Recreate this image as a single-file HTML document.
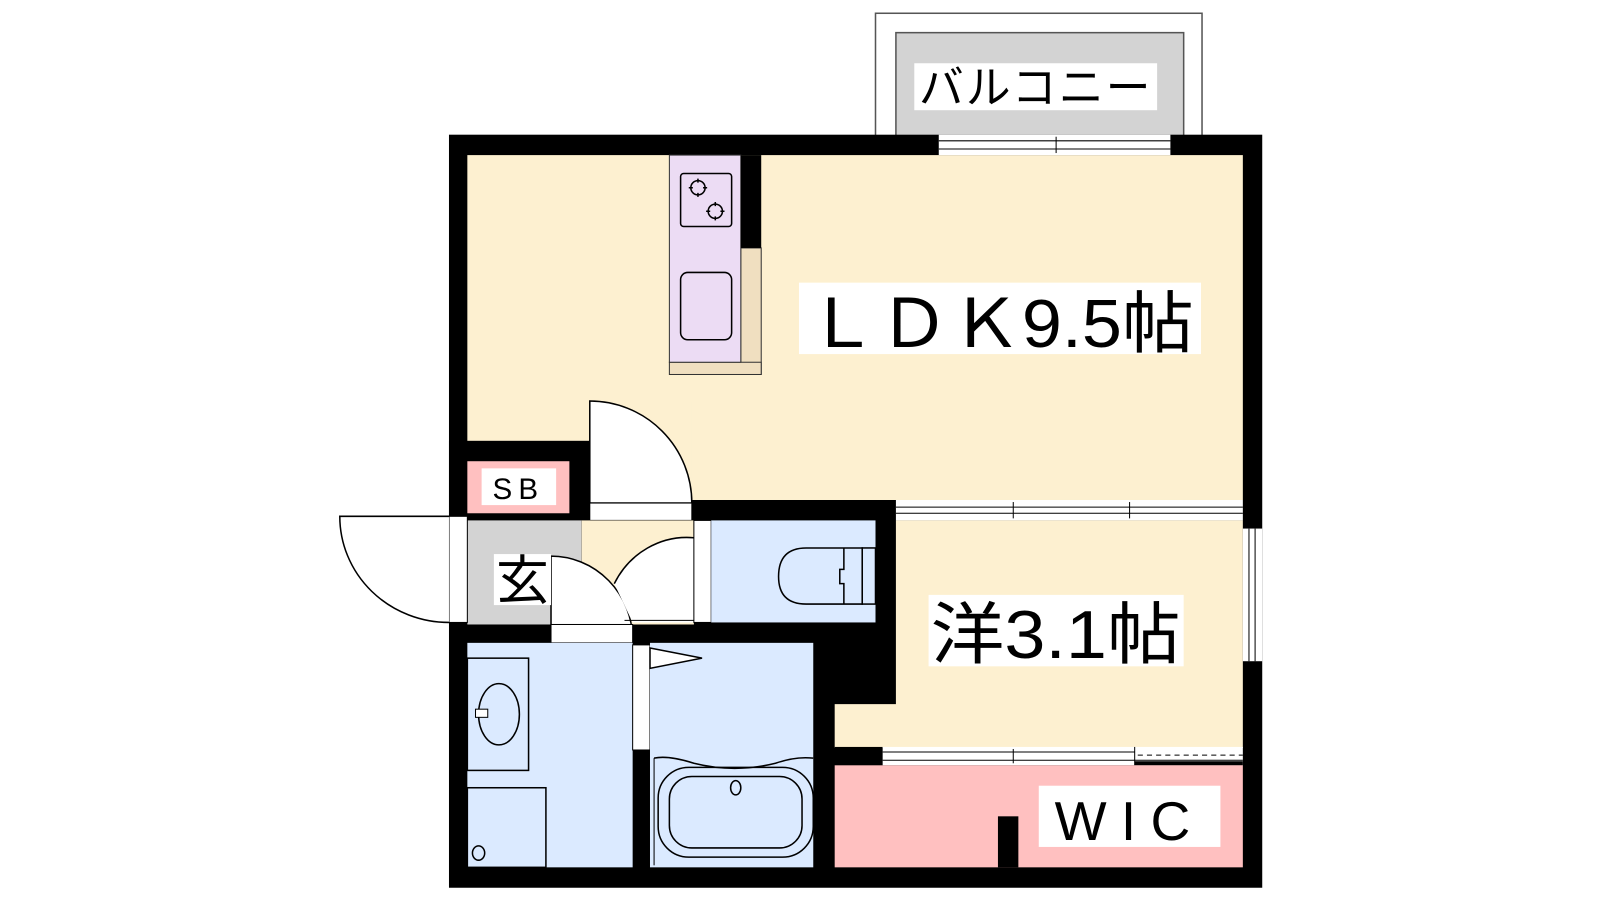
<!DOCTYPE html>
<html><head><meta charset="utf-8"><style>
html,body{margin:0;padding:0;background:#fff;}
svg{display:block;}
text{font-family:"Liberation Sans","Noto Sans CJK JP",sans-serif;fill:#000;}
</style></head><body>
<svg width="1600" height="900" viewBox="0 0 1600 900" xmlns="http://www.w3.org/2000/svg">
<g transform="scale(1.0204)">
<!-- balcony -->
<rect x="858" y="13" width="320" height="125" fill="#fff" stroke="#555" stroke-width="1.5"/>
<rect x="878" y="32" width="282" height="104" fill="#d3d3d3" stroke="#555" stroke-width="1.5"/>
<rect x="896" y="62" width="238" height="46" fill="#fff"/>
<text x="1015" y="101" font-size="44" text-anchor="middle" letter-spacing="2">バルコニー</text>

<!-- outer black -->
<rect x="440" y="132" width="797" height="738" fill="#000"/>
<!-- LDK -->
<rect x="458" y="152" width="760" height="338" fill="#fdf0d0"/>
<rect x="440" y="432" width="138" height="80" fill="#000"/>
<!-- SB -->
<rect x="458" y="452" width="100" height="51" fill="#ffc0c0"/>
<rect x="472" y="459" width="73" height="36" fill="#fff"/>
<text x="508" y="489" font-size="29" text-anchor="middle" letter-spacing="6">SB</text>
<!-- door LDK -->
<rect x="578" y="393" width="100" height="117" fill="#fdf0d0"/>
<path d="M578,493 L578,393 A100,100 0 0 1 678,493 Z" fill="#fff" stroke="#000" stroke-width="1.5"/>
<rect x="578" y="493" width="100" height="17" fill="#fff" stroke="#000" stroke-width="1"/>
<!-- sliding door LDK / western -->
<rect x="878" y="490" width="340" height="20" fill="#fff"/>
<line x1="878" y1="497" x2="1218" y2="497" stroke="#000" stroke-width="1"/>
<line x1="878" y1="503" x2="1218" y2="503" stroke="#000" stroke-width="1"/>
<line x1="993" y1="492" x2="993" y2="508" stroke="#000"/>
<line x1="1107" y1="492" x2="1107" y2="508" stroke="#000"/>
<!-- kitchen -->
<rect x="726" y="243" width="20" height="124" fill="#f0dfc0" stroke="#333" stroke-width="1"/>
<rect x="656" y="355" width="90" height="12" fill="#f0dfc0" stroke="#333" stroke-width="1"/>
<rect x="656" y="152" width="70" height="203" fill="#ecdcf4" stroke="#333" stroke-width="1"/>
<rect x="726" y="152" width="20" height="91" fill="#000"/>
<rect x="667" y="170" width="50" height="52" rx="3" fill="none" stroke="#000" stroke-width="1.5"/>
<circle cx="684" cy="184" r="7" fill="none" stroke="#000" stroke-width="1.5"/>
<path d="M684,175v4M684,189v4M675,184h4M689,184h4" stroke="#000" stroke-width="1.5"/>
<circle cx="701" cy="207" r="7" fill="none" stroke="#000" stroke-width="1.5"/>
<path d="M701,198v4M701,212v4M692,207h4M706,207h4" stroke="#000" stroke-width="1.5"/>
<rect x="667" y="267" width="50" height="66" rx="7" fill="none" stroke="#000" stroke-width="1.5"/>
<!-- LDK label -->
<rect x="783" y="277" width="394" height="70" fill="#fff"/>
<text x="790" y="340" font-size="66" textLength="380" lengthAdjust="spacingAndGlyphs">ＬＤＫ9.5帖</text>

<!-- genkan -->
<rect x="458" y="510" width="112" height="102" fill="#d3d3d3"/>
<line x1="570" y1="510" x2="570" y2="612" stroke="#777" stroke-width="1"/>
<rect x="570" y="510" width="110" height="102" fill="#fdf0d0"/>
<!-- entrance door -->
<rect x="440" y="506" width="18" height="104" fill="#fff" stroke="#000" stroke-width="1"/>
<path d="M440,506 L333,506 A107,104 0 0 0 440,610" fill="#fff" stroke="#000" stroke-width="1.5"/>
<!-- inner door to wash -->
<path d="M540,627 L540,545 A80,82 0 0 1 620,627 Z" fill="#fff" stroke="#000" stroke-width="1.5"/>
<rect x="484" y="543" width="56" height="50" fill="#fff"/>
<text x="512" y="587" font-size="52" text-anchor="middle">玄</text>
<!-- toilet door -->
<path d="M680,610 L680,527 A80,83 0 0 0 602,572 L620,610 Z" fill="#fff"/>
<path d="M680,527 A80,83 0 0 0 602,572" fill="none" stroke="#000" stroke-width="1.5"/>
<line x1="612" y1="608" x2="680" y2="608" stroke="#000" stroke-width="1"/>
<rect x="680" y="510" width="17" height="100" fill="#fff" stroke="#000" stroke-width="1"/>
<!-- toilet -->
<rect x="697" y="510" width="161" height="100" fill="#dbeaff"/>
<path d="M845,537 L790,537 Q763,537 763,565 Q763,592 790,592 L845,592 Z" fill="none" stroke="#000" stroke-width="1.5"/>
<rect x="845" y="537" width="13" height="55" fill="none" stroke="#000" stroke-width="1.5"/>
<path d="M827,537 V558 H823 V572 H827 V592" fill="none" stroke="#000" stroke-width="1.5"/>

<!-- threshold wash -->
<rect x="540" y="612" width="80" height="18" fill="#fff" stroke="#000" stroke-width="1"/>
<!-- wash room -->
<rect x="458" y="630" width="162" height="220" fill="#dbeaff"/>
<rect x="458" y="645" width="60" height="110" fill="none" stroke="#000" stroke-width="1.5"/>
<ellipse cx="489" cy="700" rx="20" ry="30" fill="none" stroke="#000" stroke-width="1.5"/>
<rect x="466" y="695" width="12" height="8" fill="#fff" stroke="#000" stroke-width="1"/>
<rect x="458" y="772" width="77" height="78" fill="none" stroke="#000" stroke-width="1.5"/>
<ellipse cx="469" cy="836" rx="6" ry="7" fill="none" stroke="#000" stroke-width="1.5"/>
<!-- bath door -->
<rect x="620" y="632" width="17" height="103" fill="#fff" stroke="#000" stroke-width="1"/>
<!-- bath -->
<rect x="637" y="630" width="160" height="220" fill="#dbeaff"/>
<path d="M637,635 L688,645 L637,655 Z" fill="#fff" stroke="#000" stroke-width="1.5"/>
<path d="M641,743 Q655,740 680,748 Q720,758 760,748 Q780,741 797,743" fill="none" stroke="#000" stroke-width="1.5"/>
<line x1="641" y1="743" x2="641" y2="848" stroke="#000" stroke-width="1"/>
<rect x="645" y="752" width="152" height="88" rx="30" fill="none" stroke="#000" stroke-width="1.5"/>
<rect x="656" y="761" width="130" height="70" rx="22" fill="none" stroke="#000" stroke-width="1.5"/>
<ellipse cx="721" cy="772" rx="5" ry="7" fill="none" stroke="#000" stroke-width="1.5"/>

<!-- western -->
<path d="M878,510 H1218 V733 H818 V690 H878 Z" fill="#fdf0d0"/>
<rect x="910" y="583" width="250" height="70" fill="#fff"/>
<text x="912" y="645" font-size="66" textLength="245" lengthAdjust="spacingAndGlyphs">洋3.1帖</text>
<!-- right window -->
<rect x="1218" y="518" width="19" height="130" fill="#fff"/>
<line x1="1224" y1="518" x2="1224" y2="648" stroke="#000"/>
<line x1="1230" y1="518" x2="1230" y2="648" stroke="#000"/>
<!-- WIC sliding -->
<rect x="818" y="732" width="47" height="18" fill="#000"/>
<rect x="865" y="732" width="353" height="18" fill="#fff"/>
<line x1="865" y1="737" x2="1112" y2="737" stroke="#000"/>
<line x1="865" y1="745" x2="1218" y2="745" stroke="#000"/>
<line x1="1112" y1="732" x2="1112" y2="750" stroke="#000"/>
<line x1="993" y1="734" x2="993" y2="748" stroke="#000"/>
<line x1="1115" y1="740" x2="1218" y2="740" stroke="#000" stroke-dasharray="5,4"/>
<rect x="1112" y="746" width="106" height="4" fill="#000"/>
<!-- WIC -->
<rect x="818" y="750" width="400" height="100" fill="#ffc0c0"/>
<rect x="978" y="800" width="20" height="50" fill="#000"/>
<rect x="1018" y="770" width="178" height="60" fill="#fff"/>
<text x="1107" y="823" font-size="54" text-anchor="middle" letter-spacing="14">WIC</text>

<!-- balcony window -->
<rect x="920" y="132" width="227" height="20" fill="#fff"/>
<line x1="920" y1="138" x2="1147" y2="138" stroke="#000"/>
<line x1="920" y1="146" x2="1147" y2="146" stroke="#000"/>
<line x1="1035" y1="134" x2="1035" y2="150" stroke="#000"/>
</g>
</svg>
</body></html>
